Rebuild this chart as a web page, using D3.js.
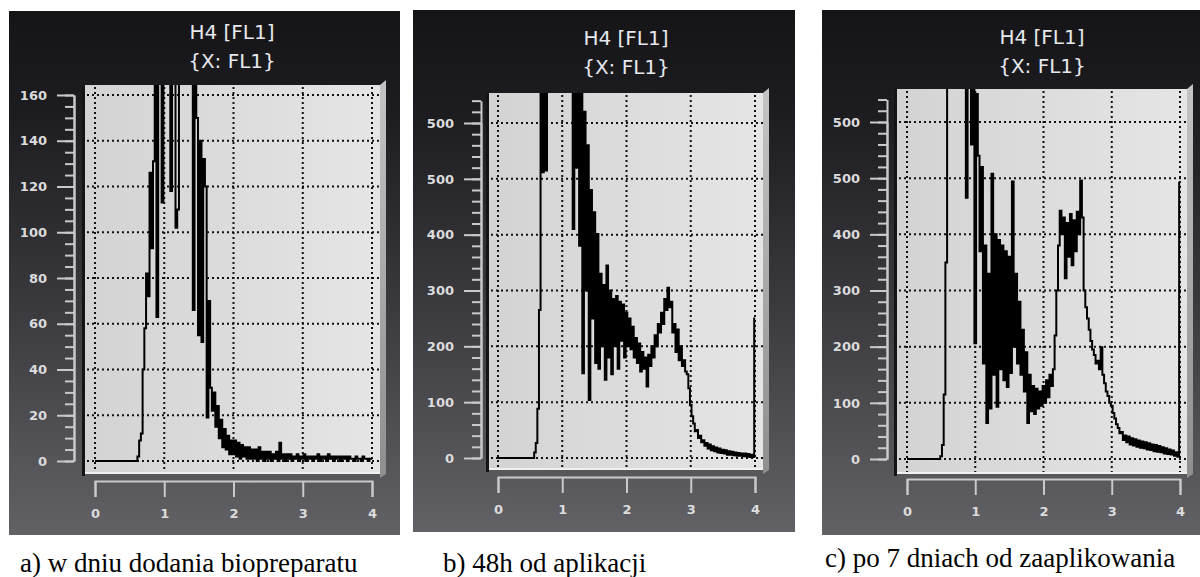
<!DOCTYPE html>
<html>
<head>
<meta charset="utf-8">
<script src="https://cdn.jsdelivr.net/npm/d3@7"></script>
<style>
	body { margin: 0; background: #fff; }
	svg { display: block; }
</style>
</head>
<body>
<svg id="chart" width="1200" height="577"></svg>
<script>
/**
 * Data (channel step 0.025 on the 0-4 axis).
 */
var channelStep = 0.025;
var xTicks = [0, 1, 2, 3, 4];
var yTicksA = [0, 20, 40, 60, 80, 100, 120, 140, 160];
var yTicksBC = [0, 100, 200, 300, 400, 500, 600];
var yLabelsBC = ["0", "100", "200", "300", "400", "500", "500"];
var titleLines = ["H4 [FL1]", "{X: FL1}"];
var captions = ["a) w dniu dodania biopreparatu", "b) 48h od aplikacji", "c) po 7 dniach od zaaplikowania"];

var countsA = [
	0, 0, 0, 0, 0, 0, 0, 0, 0, 0,
	0, 0, 0, 0, 0, 0, 0, 0, 0, 0,
	0, 0, 0, 0, 0, 2, 9, 12, 40, 58,
	82, 72, 126, 93, 131, 200, 63, 200, 200, 113,
	200, 200, 200, 200, 118, 200, 200, 102, 110, 200,
	200, 200, 200, 200, 200, 200, 200, 66, 200, 150,
	55, 140, 52, 132, 120, 19, 70, 32, 22, 30,
	15, 24, 10, 18, 6, 14, 5, 11, 3, 9,
	3, 9, 2, 8, 1, 7, 2, 6, 1, 6,
	1, 5, 1, 5, 0, 6, 1, 4, 0, 4,
	1, 4, 0, 3, 1, 4, 0, 8, 1, 3,
	0, 3, 1, 3, 0, 2, 1, 3, 0, 2,
	1, 3, 0, 2, 1, 2, 0, 2, 1, 3,
	0, 2, 1, 2, 0, 3, 1, 2, 0, 2,
	1, 2, 0, 2, 1, 2, 0, 2, 1, 1,
	0, 2, 1, 1, 0, 2, 1, 1, 0, 1,
	1
];

var countsB = [
	0, 0, 0, 0, 0, 0, 0, 0, 0, 0,
	0, 0, 0, 0, 0, 0, 0, 0, 0, 0,
	0, 0, 0, 10, 27, 88, 265, 700, 512, 700,
	515, 700, 700, 700, 700, 700, 700, 700, 700, 700,
	700, 700, 700, 700, 700, 700, 700, 410, 700, 520,
	700, 380, 690, 152, 620, 300, 560, 104, 480, 250,
	440, 170, 401, 160, 330, 200, 310, 140, 345, 180,
	300, 150, 285, 200, 290, 160, 280, 210, 275, 180,
	260, 200, 250, 195, 235, 180, 215, 170, 205, 155,
	190, 160, 180, 128, 185, 165, 200, 180, 220, 200,
	240, 225, 260, 240, 285, 265, 305, 270, 280, 225,
	240, 190, 230, 175, 200, 165, 175, 155, 150, 125,
	95, 75, 62, 48, 50, 36, 40, 28, 32, 22,
	27, 17, 24, 14, 21, 12, 19, 10, 17, 9,
	15, 8, 14, 6, 12, 6, 11, 5, 10, 4,
	9, 4, 8, 3, 8, 3, 7, 2, 6, 2,
	250
];

var countsC = [
	0, 0, 0, 0, 0, 0, 0, 0, 0, 0,
	0, 0, 0, 0, 0, 0, 0, 0, 0, 0,
	5, 25, 115, 350, 700, 700, 700, 700, 700, 700,
	700, 700, 700, 700, 700, 465, 700, 700, 560, 700,
	206, 650, 540, 370, 520, 170, 380, 64, 330, 90,
	508, 150, 400, 93, 390, 160, 380, 140, 370, 128,
	360, 153, 494, 200, 330, 170, 280, 150, 230, 120,
	190, 64, 150, 85, 130, 80, 125, 90, 120, 95,
	130, 100, 140, 110, 150, 130, 160, 220, 300, 380,
	442, 400, 430, 322, 420, 360, 436, 345, 425, 370,
	440, 400, 496, 430, 300, 270, 250, 230, 210, 195,
	185, 170, 175, 160, 199, 150, 135, 120, 112, 100,
	95, 82, 72, 62, 55, 46, 48, 34, 42, 30,
	40, 26, 37, 24, 35, 22, 33, 20, 31, 19,
	30, 17, 28, 16, 26, 14, 25, 13, 23, 12,
	21, 10, 19, 9, 17, 8, 15, 6, 12, 4,
	492
];

// Layout of each panel (pixels).
var panels = [
	{
		counts: countsA, yTicks: yTicksA, yLabels: yTicksA.map(String), minorStep: 5, rulerTop: 160,
		bg: [9, 11, 391, 524], plot: [85, 85, 380, 472],
		xRange: [95, 372], yRange: [461, 95], rulerX: 74, xAxisY: 481,
		titleX: 232, titleY: 39, captionX: 20, captionY: 572
	},
	{
		counts: countsB, yTicks: yTicksBC, yLabels: yLabelsBC, minorStep: 20, rulerTop: 640,
		bg: [413, 10, 382, 522], plot: [489, 93, 763, 468],
		xRange: [498, 755], yRange: [458, 123], rulerX: 481, xAxisY: 477,
		titleX: 626, titleY: 45, captionX: 443, captionY: 572
	},
	{
		counts: countsC, yTicks: yTicksBC, yLabels: yLabelsBC, minorStep: 20, rulerTop: 640,
		bg: [822, 10, 378, 525], plot: [897, 89, 1187, 472],
		xRange: [907, 1180], yRange: [459, 122], rulerX: 887, xAxisY: 479,
		titleX: 1042, titleY: 44, captionX: 825, captionY: 567
	}
];

var svg = d3.select("#chart");
var defs = svg.append("defs");

function gradient(id, vertical, stops) {
	var gr = defs.append("linearGradient")
		.attr("id", id)
		.attr("x1", 0).attr("y1", 0)
		.attr("x2", vertical ? 0 : 1).attr("y2", vertical ? 1 : 0);
	stops.forEach(function (s) {
		gr.append("stop").attr("offset", s[0]).attr("stop-color", s[1]);
	});
}

gradient("bgGrad", true, [[0, "#151518"], [0.2, "#1d1d21"], [0.55, "#38383d"], [1, "#616166"]]);
gradient("plotGrad", false, [[0, "#d3d3d3"], [1, "#e5e5e5"]]);
gradient("sideGrad", true, [[0, "#c4c4c4"], [1, "#8e8e8e"]]);

panels.forEach(drawPanel);

function drawPanel(p, k) {
	var g = svg.append("g");
	var x0 = p.plot[0], y0 = p.plot[1], x1 = p.plot[2], y1 = p.plot[3];

	g.append("rect")
		.attr("x", p.bg[0]).attr("y", p.bg[1])
		.attr("width", p.bg[2]).attr("height", p.bg[3])
		.attr("fill", "url(#bgGrad)");

	var x = d3.scaleLinear().domain([0, 4]).range(p.xRange);
	var y = d3.scaleLinear().domain([0, p.yTicks[p.yTicks.length - 1]]).range(p.yRange);

	// 3D box: side face, back wall, shadow.
	g.append("path")
		.attr("d", "M" + x1 + "," + y0 + "L" + (x1 + 6) + "," + (y0 - 5) + "L" + (x1 + 6) + "," + (y1 + 2) +
			"L" + x1 + "," + (y1 + 6) + "Z")
		.attr("fill", "url(#sideGrad)");
	g.append("rect")
		.attr("x", x0).attr("y", y0)
		.attr("width", x1 - x0).attr("height", y1 - y0)
		.attr("fill", "url(#plotGrad)");
	g.append("line")
		.attr("x1", x0).attr("x2", x1)
		.attr("y1", y1 + 1).attr("y2", y1 + 1)
		.attr("stroke", "#f0f0f0").attr("stroke-width", 2);
	g.append("line")
		.attr("x1", x0 - 1.5).attr("x2", x0 - 1.5)
		.attr("y1", y0).attr("y2", y1 + 4)
		.attr("stroke", "#141414").attr("stroke-width", 3);

	defs.append("clipPath").attr("id", "clip" + k)
		.append("rect")
		.attr("x", x0).attr("y", y0)
		.attr("width", x1 - x0).attr("height", y1 - y0);

	// Dotted grid.
	g.selectAll(".vgrid").data(xTicks).enter().append("line")
		.attr("class", "vgrid")
		.attr("x1", function (d) { return x(d); })
		.attr("x2", function (d) { return x(d); })
		.attr("y1", y0 + 2).attr("y2", y1)
		.attr("stroke", "#111").attr("stroke-width", 2)
		.attr("stroke-dasharray", "2,3");
	g.selectAll(".hgrid").data(p.yTicks).enter().append("line")
		.attr("class", "hgrid")
		.attr("y1", function (d) { return y(d); })
		.attr("y2", function (d) { return y(d); })
		.attr("x1", x0 + 2).attr("x2", x1)
		.attr("stroke", "#111").attr("stroke-width", 2)
		.attr("stroke-dasharray", "2,3");

	// Histogram trace, drawn as steps like the cytometer software.
	var line = d3.line()
		.x(function (d, i) { return x(i * channelStep); })
		.y(function (d) { return y(d); })
		.curve(d3.curveStep);
	g.append("path")
		.datum(p.counts)
		.attr("clip-path", "url(#clip" + k + ")")
		.attr("d", line)
		.attr("fill", "none")
		.attr("stroke", "#000")
		.attr("stroke-width", 2)
		.attr("stroke-linejoin", "miter");

	// Y ruler: minor then major ticks.
	var yRuler = d3.scaleLinear().domain([0, p.rulerTop]).range([y(0), y(p.rulerTop)]);
	var minor = g.append("g")
		.attr("transform", "translate(" + p.rulerX + ",0)")
		.call(d3.axisLeft(yRuler)
			.tickValues(d3.range(0, p.rulerTop + 0.1, p.minorStep))
			.tickSize(9).tickSizeOuter(0).tickFormat(""));
	var major = g.append("g")
		.attr("transform", "translate(" + p.rulerX + ",0)")
		.call(d3.axisLeft(y)
			.tickValues(p.yTicks)
			.tickSize(17).tickSizeOuter(0).tickPadding(10)
			.tickFormat(function (d, i) { return p.yLabels[i]; }));

	// X ruler.
	var xAxis = g.append("g")
		.attr("transform", "translate(0," + p.xAxisY + ")")
		.call(d3.axisBottom(x)
			.tickValues(xTicks)
			.tickSize(16).tickSizeOuter(16).tickPadding(12)
			.tickFormat(d3.format("d")));

	[minor, major, xAxis].forEach(function (a) {
		a.selectAll("path, line").attr("stroke", "#c9c9c9").attr("stroke-width", 2);
		a.selectAll("text")
			.attr("fill", "#dcdcdc")
			.attr("font-family", "DejaVu Sans")
			.attr("font-weight", "bold")
			.attr("font-size", 13);
	});

	// Title.
	g.selectAll(".title").data(titleLines).enter().append("text")
		.attr("class", "title")
		.attr("x", p.titleX)
		.attr("y", function (d, i) { return p.titleY + i * 29; })
		.attr("text-anchor", "middle")
		.attr("font-family", "DejaVu Sans")
		.attr("font-size", 20)
		.attr("fill", "#e6e8ee")
		.text(function (d) { return d; });

	// Caption under the panel.
	svg.append("text")
		.attr("x", p.captionX)
		.attr("y", p.captionY)
		.attr("font-family", "Liberation Serif")
		.attr("font-size", 27)
		.attr("fill", "#000")
		.text(captions[k]);
}
</script>
</body>
</html>
